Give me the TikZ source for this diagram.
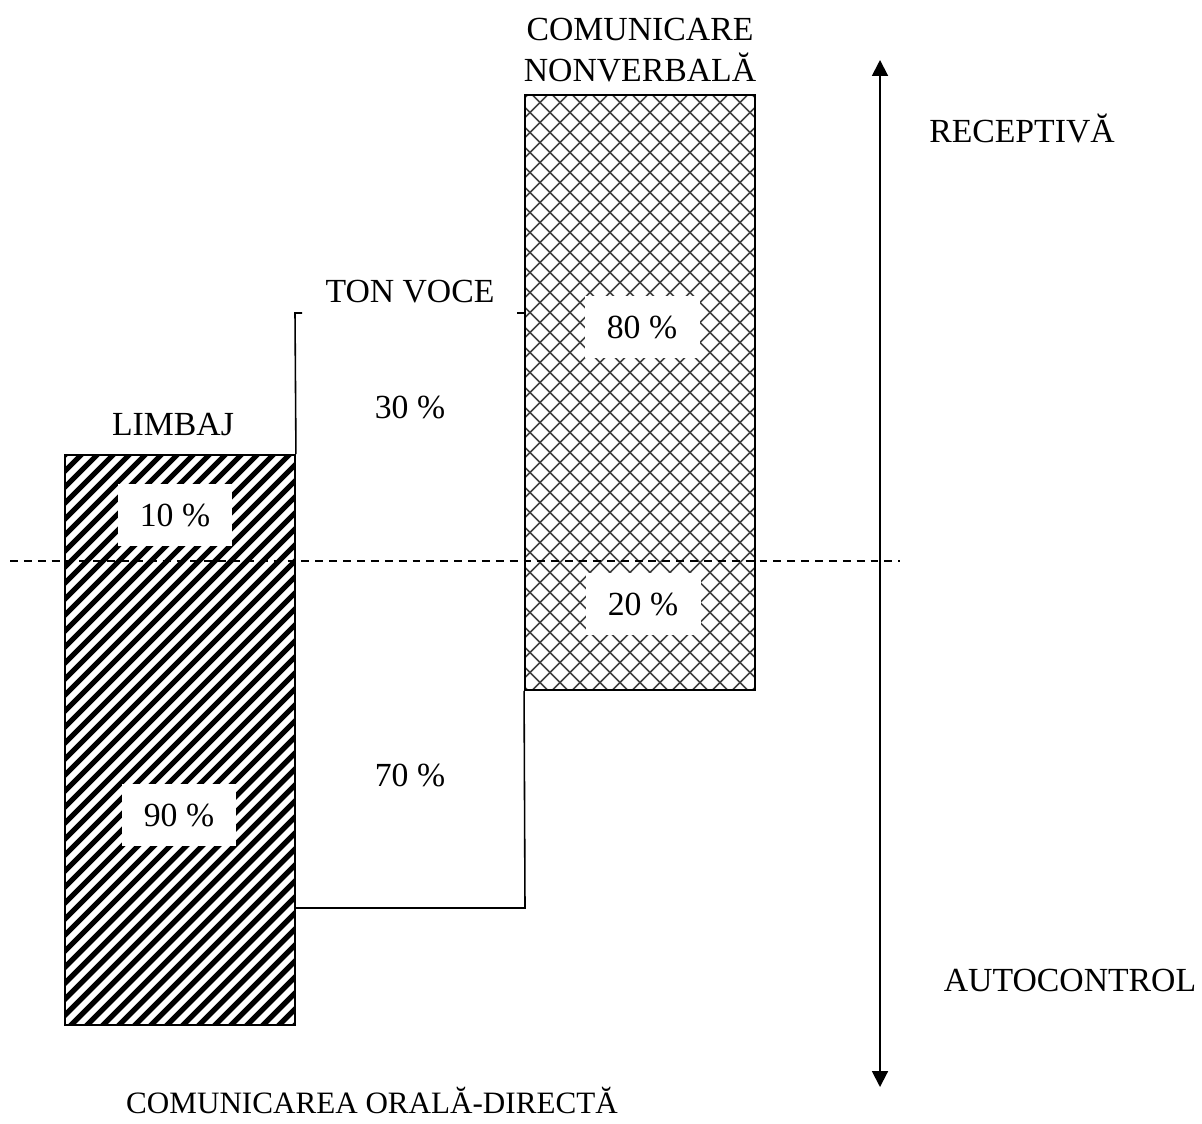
\documentclass[tikz,border=0pt]{standalone}
\usepackage{fontspec}
\setmainfont{Liberation Serif}
\usetikzlibrary{arrows.meta}
\begin{document}
\begin{tikzpicture}[x=0.02cm,y=-0.02cm,
  font=\fontsize{19.2}{23.8}\selectfont,
  lbl/.style={inner sep=0pt, align=center},
  pbox/.style={fill=white, inner sep=0pt, minimum width=2.3cm, minimum height=1.24cm},
  frame/.style={draw=black, line width=1.1pt, inner sep=0pt},
  thin/.style={draw=black, line width=0.9pt},
  stripes/.style={path picture={
      \foreach \a in {-1008,-992,...,208}
        \draw[line width=3pt, black] (\a,400) -- (\a+800,-400);}},
  hatch/.style={path picture={
      \foreach \a in {-900,-880,...,200}{
        \draw[line width=0.9pt, black!75] (\a,350) -- (\a+700,-350);
        \draw[line width=0.9pt, black!75] (\a,-350) -- (\a+700,350);}}}
]
\useasboundingbox (0,0) rectangle (1202,1123);

% main bars
\node[frame, stripes, minimum width=4.6cm, minimum height=11.4cm] (L) at (180,740) {};
\node[frame, hatch, minimum width=4.6cm, minimum height=11.9cm] (R) at (640,392.5) {};

% TON VOCE bracket
\coordinate (tvl) at (295,313);
\coordinate (tvlt) at (302,313);
\coordinate (tvr) at (525,313);
\coordinate (tvrt) at (517,313);
\coordinate (bl) at (295,908);
\coordinate (br) at (525,908);
\draw[thin] (L.north east) -- (tvl) -- (tvlt);
\draw[thin] (tvrt) -- (tvr);
\draw[thin] (R.south west) -- (br) -- (bl);

% dashed divider
\coordinate (dl) at (10,561);
\coordinate (dr) at (900,561);
\draw[dashed, dash pattern=on 4.5pt off 3.4pt, line width=0.7pt] (dl) -- (dr);

% vertical arrow
\coordinate (atop) at (880,60);
\coordinate (abot) at (880,1087);
\draw[line width=1.1pt, {Triangle[length=9pt,width=9pt]}-{Triangle[length=9pt,width=9pt]}] (atop) -- (abot);

% percent boxes
\node[pbox] (p10) at (175,515) {10 \%};
\node[pbox] (p90) at (179,815) {90 \%};
\node[pbox] (p80) at (642,327) {80 \%};
\node[pbox] (p20) at (643,604) {20 \%};
\node[lbl] (p30) at (410,407) {30 \%};
\node[lbl] (p70) at (410,775) {70 \%};

% labels
\node[lbl] (tcn) at (640,50) {COMUNICARE\\NONVERBALĂ};
\node[lbl] (tton) at (410,292) {TON VOCE};
\node[lbl] (tlim) at (173,425) {LIMBAJ};
\node[lbl] (trec) at (1022,128) {RECEPTIVĂ};
\node[lbl] (taut) at (1070,980) {AUTOCONTROL};
\node[lbl, font=\fontsize{17.7}{21}\selectfont] (tcom) at (372,1100) {COMUNICAREA ORALĂ-DIRECTĂ};
\end{tikzpicture}
\end{document}
